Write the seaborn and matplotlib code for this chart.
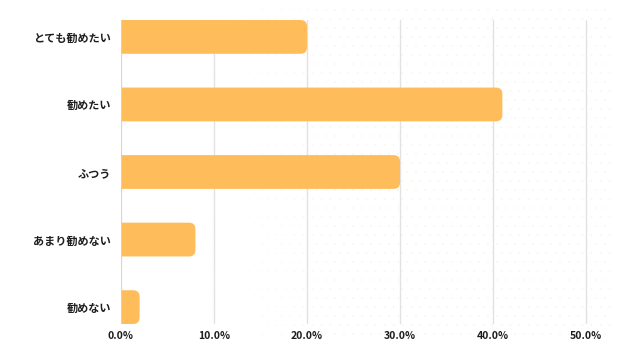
import numpy as np
import pandas as pd
import matplotlib
matplotlib.use("Agg")
import matplotlib.pyplot as plt
from matplotlib.patches import FancyBboxPatch
from matplotlib.ticker import FuncFormatter
import seaborn as sns

# data
categories = ["とても勧めたい", "勧めたい", "ふつう", "あまり勧めない", "勧めない"]
percent = [20.0, 41.0, 30.0, 8.0, 2.0]
x_ticks = [0, 10, 20, 30, 40, 50]

df = pd.DataFrame({"answer": categories, "pct": percent})

sns.set_theme(style="white")
plt.rcParams["font.family"] = ["Noto Sans CJK JP", "DejaVu Sans"]

fig = plt.figure(figsize=(6.4, 3.6), dpi=100)

# faint dotted background pattern
bg = fig.add_axes([0, 0, 1, 1], zorder=0)
bg.set_xlim(0, 640)
bg.set_ylim(360, 0)
bg.axis("off")
gx, gy = np.meshgrid(np.arange(200, 614, 9.0), np.arange(10, 340, 9.0))
gx = gx + (np.arange(gy.shape[0])[:, None] % 2) * 4.5
fade = np.clip((gx - 200) / 140, 0, 1)
cols = np.zeros((gx.size, 4))
cols[:, :3] = matplotlib.colors.to_rgb("#fbe3c0")
cols[:, 3] = 0.35 * fade.ravel()
bg.scatter(gx.ravel(), gy.ravel(), s=2.0, c=cols, linewidths=0)

ax = fig.add_axes([121 / 640, 1 - 324 / 360, (614 - 121) / 640, (324 - 20) / 360], zorder=1)
ax.patch.set_alpha(0)

sns.barplot(data=df, x="pct", y="answer", orient="h", color="#ffbc5a",
            width=0.5, saturation=1, ax=ax, zorder=3)

# replace bars with ones rounded at the right end
px_x = 93 / 10.0
px_y = 68.0
aspect = px_x / px_y
r = 6.5 / px_x
for p in list(ax.patches):
    x0, y0 = p.get_x(), p.get_y()
    w, h = p.get_width(), p.get_height()
    fb = FancyBboxPatch((x0 - 3, y0), w + 3, h,
                        boxstyle=f"round,pad=0,rounding_size={r}",
                        mutation_aspect=aspect, facecolor="#ffbc5a",
                        edgecolor="none", zorder=3, clip_on=True)
    p.remove()
    ax.add_patch(fb)

ax.set_xlim(0, 53)
ax.set_ylim(4.25, -0.25)
ax.set_xticks(x_ticks)
ax.xaxis.set_major_formatter(FuncFormatter(lambda v, pos: f"{v:.1f}%"))
ax.grid(axis="x", color="#e2e2e2", linewidth=1, zorder=0)
ax.grid(axis="y", visible=False)
ax.axvline(0, color="#d4d4d4", linewidth=1.2, zorder=4)
for s in ax.spines.values():
    s.set_visible(False)
ax.tick_params(axis="both", length=0, colors="#1e1e1e")
ax.tick_params(axis="x", pad=5, labelsize=7.5)
ax.tick_params(axis="y", pad=7, labelsize=8)
for t in ax.get_xticklabels():
    t.set_fontweight("bold")
for t in ax.get_yticklabels():
    t.set_fontweight("bold")
ax.set_xlabel("")
ax.set_ylabel("")

fig.savefig("out.png", dpi=100)
